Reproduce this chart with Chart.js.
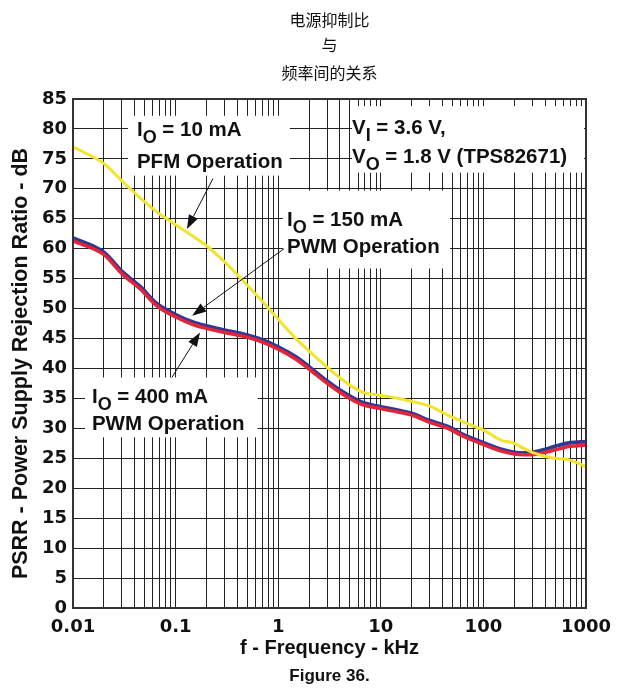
<!DOCTYPE html>
<html><head><meta charset="utf-8">
<script src="https://cdn.jsdelivr.net/npm/chart.js@4.4.0/dist/chart.umd.min.js"></script>
<style>html,body{margin:0;padding:0;background:#fff}canvas{display:block}</style>
</head><body>
<canvas id="c" width="618" height="698"></canvas>
<script>
// ---- data ----
const freqKHz   = [0.01,0.02,0.03,0.045,0.065,0.1,0.15,0.2,0.3,0.45,0.65,1,1.5,2,3,4,6.5,10,15,20,30,45,65,100,150,200,250,300,400,500,700,1000];
const psrr10mA  = [77.0,74.2,71.3,68.5,66.2,64.0,62.0,60.5,57.8,54.7,51.8,48.2,44.9,42.9,40.2,38.4,36.1,35.5,35.0,34.5,33.7,32.2,31.0,29.7,28.0,27.5,26.6,26.0,25.3,25.0,24.7,23.6];
const psrr150mA = [61.8,59.4,56.2,53.7,50.9,49.0,47.7,47.1,46.4,45.8,45.0,43.6,41.9,40.3,37.9,36.4,34.4,33.6,33.0,32.5,31.3,30.3,28.9,27.6,26.5,26.0,25.9,26.0,26.5,27.0,27.6,27.8];
const psrr400mA = [61.3,59.0,55.8,53.3,50.5,48.6,47.3,46.7,46.0,45.4,44.6,43.2,41.5,39.9,37.5,36.0,34.0,33.3,32.7,32.2,31.0,30.0,28.6,27.3,26.2,25.7,25.6,25.6,26.0,26.4,27.0,27.2];
const xTickLabels = ['0.01','0.1','1','10','100','1000'];
const yTickValues = [0,5,10,15,20,25,30,35,40,45,50,55,60,65,70,75,80,85];
const titleLines = ['电源抑制比','与','频率间的关系'];
const xAxisTitle = 'f - Frequency - kHz';
const yAxisTitle = 'PSRR - Power Supply Rejection Ratio - dB';
const figureCaption = 'Figure 36.';

// annotation placement, in data units (kHz, dB)
const noteBoxes = [
  {x0:0.0344, x1:1.30, y0:72.2, y1:82.2},
  {x0:5.24,  x1:955,  y0:72.7, y1:83.8},
  {x0:1.11,  x1:47.2, y0:56.7, y1:69.7},
  {x0:0.0131,x1:0.63, y0:28.5, y1:38.5}
];
const noteTexts = [
  {x:0.042, y:78.8, parts:[['I'],['O',1],[' = 10 mA']]},
  {x:0.042, y:73.5, parts:[['PFM Operation']]},
  {x:5.24,  y:79.2, parts:[['V'],['I',1],[' = 3.6 V,']]},
  {x:5.24,  y:74.3, parts:[['V'],['O',1],[' = 1.8 V (TPS82671)']]},
  {x:1.22,  y:63.8, parts:[['I'],['O',1],[' = 150 mA']]},
  {x:1.22,  y:59.3, parts:[['PWM Operation']]},
  {x:0.0153,y:34.3, parts:[['I'],['O',1],[' = 400 mA']]},
  {x:0.0153,y:29.7, parts:[['PWM Operation']]}
];
const noteArrows = [
  {from:[0.231,71.7], to:[0.129,63.3]},
  {from:[1.14,60.0],  to:[0.145,48.8]},
  {from:[0.092,38.5], to:[0.173,46.0]}
];

const xDecades = xTickLabels.map(Number);
const xTickValues = [];
for (let i = 0; i < xDecades.length - 1; i++) {
  for (let m = 1; m <= 9; m++) xTickValues.push(+(xDecades[i]*m).toPrecision(6));
}
xTickValues.push(xDecades[xDecades.length-1]);

const pts = arr => freqKHz.map((f,i)=>({x:f, y:arr[i]}));

const notesPlugin = {
  id:'notes',
  beforeDatasetsDraw(chart){
    const {ctx, scales:{x, y}} = chart;
    ctx.save();
    ctx.fillStyle = '#fff';
    noteBoxes.forEach(b=>{
      const l = x.getPixelForValue(b.x0), r = x.getPixelForValue(b.x1);
      const t = y.getPixelForValue(b.y1), bt = y.getPixelForValue(b.y0);
      ctx.fillRect(l, t, r-l, bt-t);
    });
    ctx.fillStyle = '#111';
    ctx.textBaseline = 'alphabetic';
    ctx.textAlign = 'left';
    noteTexts.forEach(n=>{
      let px = x.getPixelForValue(n.x);
      const py = y.getPixelForValue(n.y);
      n.parts.forEach(p=>{
        const sub = p[1];
        ctx.font = 'bold ' + (sub ? 18 : 20.5) + 'px "Liberation Sans", Arial, sans-serif';
        ctx.fillText(p[0], px, py + (sub ? 7 : 0));
        px += ctx.measureText(p[0]).width;
      });
    });
    ctx.restore();
  },
  afterDatasetsDraw(chart){
    const {ctx, chartArea:a, scales:{x, y}} = chart;
    ctx.save();
    ctx.strokeStyle = '#111'; ctx.fillStyle = '#111'; ctx.lineWidth = 1;
    noteArrows.forEach(ar=>{
      const x0 = x.getPixelForValue(ar.from[0]), y0 = y.getPixelForValue(ar.from[1]);
      const x1 = x.getPixelForValue(ar.to[0]),   y1 = y.getPixelForValue(ar.to[1]);
      const ang = Math.atan2(y1-y0, x1-x0);
      const L = 14, W = 5;
      const bx = x1 - L*Math.cos(ang), by = y1 - L*Math.sin(ang);
      ctx.beginPath(); ctx.moveTo(x0,y0); ctx.lineTo(bx,by); ctx.stroke();
      ctx.beginPath();
      ctx.moveTo(x1,y1);
      ctx.lineTo(bx + W*Math.sin(ang), by - W*Math.cos(ang));
      ctx.lineTo(bx - W*Math.sin(ang), by + W*Math.cos(ang));
      ctx.closePath(); ctx.fill();
    });
    ctx.strokeStyle = '#333'; ctx.lineWidth = 2;
    ctx.strokeRect(a.left, a.top, a.right-a.left, a.bottom-a.top);
    ctx.restore();
  },
  afterDraw(chart){
    const {ctx, chartArea:a} = chart;
    const cx = (a.left + a.right)/2;
    ctx.save();
    ctx.fillStyle = '#111';
    ctx.textAlign = 'center'; ctx.textBaseline = 'middle';
    ctx.font = '16px "Noto Sans CJK SC", sans-serif';
    const ys = [20, 45, 73];
    titleLines.forEach((t,i)=>ctx.fillText(t, cx, ys[i]));
    ctx.font = 'bold 17px "Liberation Sans", Arial, sans-serif';
    ctx.fillText(figureCaption, cx, 676);
    // y-axis title
    ctx.translate(21, (a.top + a.bottom)/2 + 10);
    ctx.rotate(-Math.PI/2);
    ctx.font = 'bold 21.5px "Liberation Sans", Arial, sans-serif';
    ctx.fillText(yAxisTitle, 0, 0);
    ctx.restore();
  }
};

const tickFont = {family:'"DejaVu Sans", sans-serif', weight:'bold', size:18};

new Chart(document.getElementById('c'), {
  type:'line',
  data:{datasets:[
    {label:'IO = 10 mA PFM', data:pts(psrr10mA), borderColor:'#F2E42C', borderWidth:3, order:0},
    {label:'IO = 400 mA PWM', data:pts(psrr400mA), borderColor:'#E3253C', borderWidth:3.5, order:1},
    {label:'IO = 150 mA PWM', data:pts(psrr150mA), borderColor:'#2B3A92', borderWidth:3.8, order:2}
  ]},
  options:{
    responsive:false, animation:false, devicePixelRatio:1,
    layout:{padding:{top:99, right:32, bottom:0, left:0}},
    plugins:{legend:{display:false}, tooltip:{enabled:false}, title:{display:false}},
    elements:{point:{radius:0}, line:{cubicInterpolationMode:'monotone', borderCapStyle:'round', borderJoinStyle:'round'}},
    scales:{
      x:{
        type:'logarithmic', min:0.01, max:1000,
        afterFit(s){ s.height = 90; s.paddingLeft = 0; s.paddingRight = 0; },
        afterBuildTicks(s){ s.ticks = xTickValues.map(v=>({value:v})); },
        ticks:{autoSkip:false, maxRotation:0, minRotation:0, padding:9, color:'#111', font:tickFont,
          callback(v){ const i = xDecades.findIndex(d=>Math.abs(v/d-1)<1e-6); return i>=0 ? xTickLabels[i] : ''; }},
        grid:{color:'#222', lineWidth:1, drawTicks:false},
        border:{color:'#333', width:2},
        title:{display:true, text:xAxisTitle, color:'#111', font:{family:'"Liberation Sans", Arial, sans-serif', weight:'bold', size:20}, padding:{top:0, bottom:38}}
      },
      y:{
        min:0, max:85,
        afterFit(s){ s.width = 73; },
        afterBuildTicks(s){ s.ticks = yTickValues.map(v=>({value:v})); },
        ticks:{padding:6, color:'#111', font:tickFont},
        grid:{color:'#222', lineWidth:1, drawTicks:false},
        border:{color:'#333', width:2},
        title:{display:false}
      }
    }
  },
  plugins:[notesPlugin]
});
</script>
</body></html>
